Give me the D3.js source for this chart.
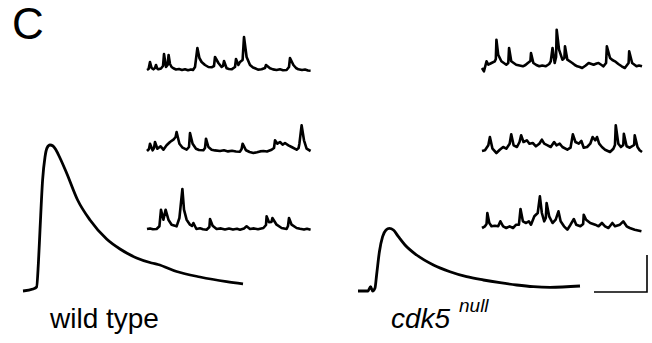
<!DOCTYPE html>
<html>
<head>
<meta charset="utf-8">
<script src="https://cdn.jsdelivr.net/npm/d3@7"></script>
<style>
  html, body { margin: 0; padding: 0; background: #fff; }
  svg { display: block; }
  text { font-family: "Liberation Sans", Arial, sans-serif; fill: #000; }
</style>
</head>
<body>
<div id="chart"></div>
<script>
// spontaneous activity traces, [time (s), dF (a.u.)]
const wtTrace1 = [[0,0],[0.8,1],[1.5,8],[2.3,2],[3.2,0.7],[4,2],[4.5,5],[5.1,1.5],[5.7,0.7],[7,1.5],[8,4],[8.5,16],[9.5,3],[10.3,5],[10.8,15],[11.5,6],[12.3,3],[13.2,1.7],[14.5,0.5],[16,1],[17.5,0],[19,0.8],[20.5,-0.3],[22,0.6],[23,0],[24,3],[25.2,22],[26.2,12],[27.3,8],[29,5],[30.7,3],[32.3,2.7],[33.5,4],[34,13],[35.7,7],[37.3,3],[38,4],[38.5,9],[39.8,1.7],[41,1],[42.3,0.7],[44,3],[44.5,11],[45.7,5],[46.5,8],[47.8,10],[48.5,33],[49.8,13],[51.5,5],[53,2.5],[54,1.7],[55.5,0.4],[57.3,0.7],[59,2],[59.5,5],[61.5,1.7],[63,0.6],[64.8,0],[66.5,0.7],[68,-0.2],[69.8,0],[71,3],[71.5,12],[73.2,5],[74.5,2],[75.7,0.7],[77.5,0],[79,0.5],[80.5,-0.5],[81.8,-0.7]];
const wtTrace2 = [[0,0],[1,2],[1.5,7.3],[2.8,0.7],[3.5,3],[4,9],[5.2,2.3],[6.8,4.7],[8.2,1.3],[9.8,5.7],[11.5,9],[13.2,11.3],[14.3,14],[14.8,19],[16.2,7.3],[17.8,3.3],[19.8,1.3],[21,4],[21.5,18],[22.8,7.3],[24.5,2.3],[26,1],[28.2,0.7],[29,3],[29.5,12.3],[30.7,4],[32.3,1.3],[34,0.6],[36.5,0],[38.5,0.7],[40.5,-0.4],[42.5,0.3],[44.5,-0.5],[46.5,-0.7],[47.3,2],[47.8,7.3],[49.5,0.7],[51.3,-1],[53.2,-2],[55,-1.2],[56.5,-0.4],[58.2,0],[60,-0.5],[62.3,1.3],[63.5,3],[64,10.7],[65.2,7.3],[66.5,9],[67.8,6.3],[69,8],[70.7,5.7],[72.3,4],[74.8,1.3],[75.8,3],[76.2,7.3],[77.3,25.7],[78.5,10.7],[79.8,2.3],[81.8,0]];
const wtTrace3 = [[0,0],[1.5,0.6],[3,-0.3],[4.8,0],[6.2,2.7],[7,19.3],[8.2,9.3],[9.3,19.3],[10.7,9.3],[12.3,4.3],[14.8,2.7],[16.2,11],[16.8,22.7],[17.7,40],[18.5,19.3],[19.8,9.3],[21.5,4.3],[22.5,3],[23.2,6],[24.7,0],[26.5,0.7],[28,-0.3],[29.8,-0.7],[31.2,2],[31.5,10],[32.8,3.3],[34.8,0],[37,0.6],[39,-0.4],[41,0.4],[43,-0.6],[45,0.2],[46.5,-0.7],[48.5,0.5],[49.8,2.7],[51.5,0],[53.5,0.6],[55.5,-0.2],[58.2,1],[59.5,4],[59.8,12.7],[61,6.7],[62.2,7],[62.7,11],[64.8,4.3],[67.3,1],[69.8,0],[70.5,3],[71,11],[72.3,4.3],[74.8,1],[76.5,0.2],[78.5,-0.6],[80,0.2],[81.8,-0.7]];

const cdkTrace1 = [[0,-1],[1,-4.3],[2.3,5.7],[3.2,2.3],[4.8,4],[6.5,5.7],[7,8],[7.3,27.3],[8.2,12.3],[9.8,5.7],[12.3,2.3],[13.3,4],[13.7,19],[14.8,5.7],[17.3,2.3],[19,1.5],[20.7,0.7],[22,2],[23.2,4],[24.5,6],[24.8,14],[26,4],[27.5,2],[29,0.7],[30.5,1.5],[32.3,0.7],[34,3],[34.8,5.7],[35.7,19],[36.8,4],[37.5,10],[37.8,37.3],[39,17.3],[40.7,7.3],[41.7,9],[42,20.7],[43.2,7.3],[45.7,4],[47,2],[48.2,0.7],[49.5,0],[50.7,-1],[52.5,1.5],[54,4],[56.5,2.3],[58,3.5],[59,4],[60.5,2],[61.5,0.7],[62.8,4],[63.2,20.7],[64.8,9],[66,7],[67.3,5.7],[69,3],[70.7,0.7],[72.3,-1],[74.2,4],[74.5,15.7],[76,4],[78.2,0.7],[79.5,1.5],[81,0.7]];
const cdkTrace2 = [[0,0],[1.5,0.7],[3.2,5.7],[4,14],[5.3,2.3],[7.3,-2],[9,1.3],[10.7,4],[12.3,2.3],[14,7.3],[14.8,16.7],[16,5.7],[17.7,4],[19,9],[19.8,15.7],[21,9],[22.7,10.7],[24,7.3],[25.7,8],[27.3,4.7],[29,7.3],[30.3,11.3],[31.5,7.3],[33.2,5.7],[34.8,4],[36.5,9],[37.7,5.7],[39.3,7.3],[40.7,4],[43.2,1.3],[44.8,3.3],[46,16.7],[47.3,9],[49,7.3],[50.3,10],[51.5,3.3],[53.2,4],[54.8,7.3],[56,14],[57.3,10.7],[58.2,14],[59.3,7.3],[60.7,4],[62.3,1.3],[64.8,-1],[66.5,2.3],[67.3,6],[67.7,25.7],[69,7.3],[70.3,4],[71.5,6],[71.8,17.3],[73.2,4.7],[74.8,3.3],[77,6],[77.3,15.7],[78.7,4],[79.8,0.7],[81,-1]];
const cdkTrace3 = [[0,0],[1.5,1.7],[2.3,4],[2.7,15],[3.7,5],[4.8,1.7],[6.5,2.3],[8.2,1.7],[9.3,6.7],[10.7,1.7],[12.3,0],[14,1.7],[15.7,0],[17.3,3.3],[18.7,3.3],[19.5,19],[20.7,6.7],[22.3,5],[23.7,6.7],[24.8,3.3],[26.5,11.7],[28.2,15],[29.3,31.7],[30.3,15],[31.5,6.7],[32.3,10],[32.7,25],[34,11.7],[35.7,5],[37.3,8.3],[38.7,16.7],[39.8,6.7],[41.5,1.7],[43.2,-1.7],[44.8,3.3],[46.5,9],[47.7,3.3],[49.8,1.7],[51.2,4],[51.5,13.3],[52.7,8.3],[54.8,5],[57.3,3.3],[59,1.7],[60.7,5],[62.3,1.7],[64,0],[66,5],[67.3,1.7],[69.8,3.3],[71.5,6.7],[73.2,1.7],[74.8,0],[77.3,-1.7],[80.7,-3.3]];

// averaged evoked transients, [time (s), dF (a.u.)]
const wtTransient = [[0,0],[5,2],[6.8,4],[7.7,28],[8.5,61],[9.8,111],[11,134],[12,143],[13.5,146],[15,145],[16.5,141],[18.5,133],[21.8,118],[27.3,91],[33.5,71],[41.8,52],[48.5,42],[56.8,33],[64.3,28],[67.5,26.5],[76.8,19.5],[88.5,14],[101.8,9.3],[110,7]];
const cdkTransient = [[0,0],[5,0],[6.3,4.3],[7.3,0],[8.5,3],[9.3,16],[10.7,39.3],[12.3,54.3],[14,61],[15.7,62.7],[17.7,61],[20.2,54.3],[23.5,46],[29.3,36],[37.7,26],[46,19.3],[54.3,14.3],[62.7,11],[71,8.3],[79.3,6],[87.7,4.3],[96,3.7],[111,5]];

const scaleBarTime = 26.5;
const scaleBarDF = 37;

const width = 652, height = 343;

const svg = d3.select("#chart").append("svg")
    .attr("width", width)
    .attr("height", height)
    .attr("viewBox", `0 0 ${width} ${height}`);

// small traces
const xSmallWt = d3.scaleLinear().domain([0, 82]).range([147, 311]);
const xSmallCdk = d3.scaleLinear().domain([0, 82]).range([482, 644]);
const ySmall = d3.scaleLinear().domain([0, 40]).range([0, -40]);
const wtRows = [70, 151, 229];
const cdkRows = [67, 151, 228];

function drawSmall(data, xScale, base) {
    const line = d3.line()
        .x(d => xScale(d[0]))
        .y(d => base + ySmall(d[1]));
    svg.append("path")
        .datum(data)
        .attr("d", line)
        .attr("fill", "none")
        .attr("stroke", "#000")
        .attr("stroke-width", 2.6)
        .attr("stroke-linejoin", "round");
}

[wtTrace1, wtTrace2, wtTrace3].forEach((d, i) => drawSmall(d, xSmallWt, wtRows[i]));
[cdkTrace1, cdkTrace2, cdkTrace3].forEach((d, i) => drawSmall(d, xSmallCdk, cdkRows[i]));

// big transients
const xBigWt = d3.scaleLinear().domain([0, 110]).range([23, 243]);
const xBigCdk = d3.scaleLinear().domain([0, 110]).range([358, 578]);
const yBig = d3.scaleLinear().domain([0, 150]).range([291, 141]);

function drawBig(data, xScale) {
    const line = d3.line()
        .curve(d3.curveMonotoneX)
        .x(d => xScale(d[0]))
        .y(d => yBig(d[1]));
    svg.append("path")
        .datum(data)
        .attr("d", line)
        .attr("fill", "none")
        .attr("stroke", "#000")
        .attr("stroke-width", 2.8)
        .attr("stroke-linejoin", "round");
}

drawBig(wtTransient, xBigWt);
drawBig(cdkTransient, xBigCdk);

// scale bar, anchored bottom-right
const barRight = 647, barBottom = 292;
const barLen = xBigCdk(scaleBarTime) - xBigCdk(0);
const barHeight = yBig(0) - yBig(scaleBarDF);
svg.append("path")
    .attr("d", `M${barRight - barLen},${barBottom}H${barRight}V${barBottom - barHeight}`)
    .attr("fill", "none")
    .attr("stroke", "#000")
    .attr("stroke-width", 1.6);

// labels
svg.append("text")
    .attr("x", 12)
    .attr("y", 39)
    .attr("font-size", 44)
    .text("C");

svg.append("text")
    .attr("x", 50)
    .attr("y", 328)
    .attr("font-size", 28)
    .text("wild type");

const cdk = svg.append("text")
    .attr("x", 391)
    .attr("y", 328)
    .attr("font-size", 28)
    .attr("font-style", "italic");
cdk.append("tspan").text("cdk5");
cdk.append("tspan")
    .attr("x", 459)
    .attr("y", 312)
    .attr("font-size", 19)
    .text("null");
</script>
</body>
</html>
